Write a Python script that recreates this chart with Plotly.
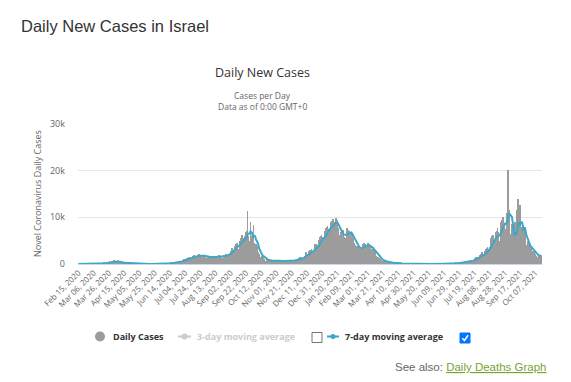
import pandas as pd
import plotly.graph_objects as go

# ---- data (daily new cases) ----
feb_2020 = [0,0,0,0,0,0,1,0,0,0,0,0,0,1,2]
mar_2020 = [3,2,3,2,3,4,2,7,10,17,14,15,25,50,36,50,90,120,190,220,170,200,260,330,430,520,550,380,360,600,650]
apr_2020 = [700,760,620,420,600,560,460,390,350,300,280,210,300,330,270,250,220,230,110,160,150,130,120,110,80,70,90,60,70,80]
may_2020 = [60,40,30,10,20,10,15,15,20,10,5,15,20,25,20,10,15,30,20,10,25,30,15,10,15,20,40,80,110,100,90]
jun_2020 = [50,70,110,130,120,100,80,110,150,180,170,210,160,110,140,230,290,300,310,190,230,300,340,380,480,500,600,450,560,700]
jul_2020 = [850,950,1100,1000,800,1200,1300,1100,1500,1400,1200,950,1600,1700,1800,1900,1600,1200,1500,1800,2000,2100,2000,1700,1300,1800,1900,2000,1850,1700,1500]
aug_2020 = [1000,1200,1500,1600,1700,1600,1500,1000,1300,1800,1700,1700,1600,1400,1100,1200,1500,1900,1800,1700,1500,1200,1300,1900,2000,2100,2200,2000,1600,2000,2200]
sep_2020 = [2200,2800,3200,3400,3000,2300,3800,3900,4200,4600,4400,3300,3000,5000,5500,5800,6200,5500,4300,3700,6000,6800,7000,11300,6000,5000,4000,8900,5500,6000]
oct_2020 = [5000,8300,4500,3500,4200,3800,3500,2500,2200,1500,1300,1500,1800,1700,1400,1100,700,600,900,1000,900,800,650,500,600,800,900,700,650,700,500]
nov_2020 = [400,600,750,800,700,650,500,450,700,750,800,700,600,450,500,800,700,750,700,600,500,800,900,850,900,800,600,700,1000,1100]
dec_2020 = [1300,1500,1400,1400,1100,1000,1600,1800,2300,2500,2200,1500,1900,2800,3000,3000,3200,2800,2200,3000,3800,4200,4300,4000,3300,3800,5200,5800,6000,6200,5800]
jan_2021 = [5200,4600,6000,7000,7800,8000,8200,7500,6300,7600,8500,9000,9300,9600,8200,6600,9000,9900,9500,9200,7800,6300,5000,5800,6800,7000,7200,6600,5800,4500,5600]
feb_2021 = [7500,7800,7200,7000,6500,4500,6800,6500,5500,5200,4600,4000,2800,3800,3800,3600,3500,3400,3300,2600,3500,4200,4300,4400,4200,3900,2700,4000]
mar_2021 = [4500,4300,4000,3800,3300,2200,3000,3300,2800,2500,2200,1800,1200,1600,1400,1200,1000,800,700,500,600,800,600,500,450,400,250,300,400,350,300]
apr_2021 = [300,250,150,100,200,250,200,180,150,100,80,150,160,140,120,100,60,90,100,110,80,70,60,50,40,70,80,70,60,50]
may_2021 = [30,40,50,50,40,40,30,20,30,40,30,30,20,15,10,20,30,25,20,15,10,20,20,15,20,10,10,15,10,10,5]
jun_2021 = [10,10,5,15,10,5,10,10,15,10,10,5,5,20,15,10,15,25,60,80,125,110,100,170,230,200,150,300,290,300]
jul_2021 = [300,250,200,250,350,450,400,500,450,300,450,700,750,800,650,500,450,900,1100,1300,1400,1200,1500,1000,1600,2000,2200,2300,2500,1800,1200]
aug_2021 = [2000,2800,3200,3400,3700,3300,2500,3600,4500,5500,6000,6200,5500,4000,5000,6800,7000,7800,6800,5000,4500,7800,9000,9500,10000,9800,8000,6500,7500,10500,11000]
sep_2021 = [20200,11500,8000,5000,6500,8500,3500,3000,8500,9000,7000,6000,11500,14000,7000,3000,12600,8000,6500,9000,5000,7500,6500,5000,4000,3500,5000,3000,3500,4000]
oct_2021 = [3500,2500,2000,2800,2500,2200,2000,1800,1500,1300,1800,2000,1900,1700,1500]

start_date = "2020-02-15"
tick_step_days = 20
y_ticks = [0, 10000, 20000, 30000]
y_tick_labels = ["0", "10k", "20k", "30k"]

daily = (feb_2020 + mar_2020 + apr_2020 + may_2020 + jun_2020 + jul_2020 + aug_2020 + sep_2020
         + oct_2020 + nov_2020 + dec_2020 + jan_2021 + feb_2021 + mar_2021 + apr_2021 + may_2021
         + jun_2021 + jul_2021 + aug_2021 + sep_2021 + oct_2021)
dates = pd.date_range(start_date, periods=len(daily), freq="D")
ma7 = pd.Series(daily).rolling(7, min_periods=1).mean()

tick_dates = dates[::tick_step_days]
tick_text = [d.strftime("%b %d, %Y") for d in tick_dates]

# ---- layout helpers (page pixel -> paper); page body has an 8px margin ----
PAGE_W, PAGE_H = 571, 382
OFF = 8
W, H = PAGE_W - OFF, PAGE_H - OFF
L, R, T, B = 78, 542, 124, 264   # plot area in page pixels
def px(x):
    return (x - L) / (R - L)
def py(y):
    return (B - y) / (B - T)

FONT = "Open Sans"
BAR_C = "#9c9c9c"
LINE_C = "#3ea6c8"

fig = go.Figure()
fig.add_trace(go.Bar(x=dates, y=daily, marker=dict(color=BAR_C, line=dict(width=0)),
                     hoverinfo="skip", showlegend=False))
fig.add_trace(go.Scatter(x=dates, y=ma7, mode="lines", line=dict(color=LINE_C, width=2),
                         hoverinfo="skip", showlegend=False))

ann = []
def text(x, y, s, size, color, xanchor="left", bold=False, family=FONT, angle=0):
    ann.append(dict(x=px(x), y=py(y), xref="paper", yref="paper", text=("<b>%s</b>" % s) if bold else s,
                    showarrow=False, xanchor=xanchor, yanchor="middle", textangle=angle,
                    font=dict(size=size, color=color, family=family)))

text(19, 26, "Daily New Cases in Israel", 16.5, "#333333", family="Liberation Sans")
text(262, 72, "Daily New Cases", 12.5, "#333333", xanchor="center")
text(262, 95, "Cases per Day", 8.5, "#666666", xanchor="center")
text(262, 106, "Data as of 0:00 GMT+0", 8.5, "#666666", xanchor="center")
text(37, 194, "Novel Coronavirus Daily Cases", 9, "#666666", xanchor="center", angle=-90)
text(111, 336.5, "Daily Cases", 9, "#333333", bold=True)
text(195, 336.5, "3-day moving average", 9, "#cccccc", bold=True)
text(343, 336.5, "7-day moving average", 9, "#333333", bold=True)
ann.append(dict(x=px(549), y=py(366.5), xref="paper", yref="paper", showarrow=False,
                xanchor="right", yanchor="middle",
                text='<span style="color:#666666">See also: </span><u>Daily Deaths Graph</u>',
                font=dict(size=11.5, color="#7ba133", family="Liberation Sans")))

shapes = []
shapes.append(dict(type="circle", xref="paper", yref="paper", x0=px(95), x1=px(105), y0=py(341.5), y1=py(331.5),
                   fillcolor=BAR_C, line=dict(width=0)))
shapes.append(dict(type="line", xref="paper", yref="paper", x0=px(178), x1=px(191), y0=py(336.5), y1=py(336.5),
                   line=dict(color="#cccccc", width=2)))
shapes.append(dict(type="circle", xref="paper", yref="paper", x0=px(181.5), x1=px(187.5), y0=py(339.5), y1=py(333.5),
                   fillcolor="#cccccc", line=dict(width=0)))
shapes.append(dict(type="rect", xref="paper", yref="paper", x0=px(312), x1=px(322), y0=py(342.5), y1=py(332.5),
                   fillcolor="white", line=dict(color="#767676", width=1)))
shapes.append(dict(type="line", xref="paper", yref="paper", x0=px(327), x1=px(339), y0=py(336.5), y1=py(336.5),
                   line=dict(color=LINE_C, width=2)))
shapes.append(dict(type="circle", xref="paper", yref="paper", x0=px(330.5), x1=px(335.5), y0=py(339), y1=py(334),
                   fillcolor=LINE_C, line=dict(width=0)))
shapes.append(dict(type="rect", xref="paper", yref="paper", x0=px(460), x1=px(470), y0=py(343), y1=py(333),
                   fillcolor="#0075ff", line=dict(color="#0075ff", width=1)))
chk = "M %f,%f L %f,%f L %f,%f" % (px(462.3), py(338.2), px(464.5), py(340.5), px(468), py(335.3))
shapes.append(dict(type="path", xref="paper", yref="paper", path=chk, line=dict(color="white", width=1.6)))

fig.update_layout(
    width=W, height=H,
    margin=dict(l=L - OFF, r=PAGE_W - R, t=T - OFF, b=PAGE_H - B, pad=0),
    paper_bgcolor="white", plot_bgcolor="white",
    font=dict(family=FONT, color="#666666"),
    bargap=0, showlegend=False, hovermode=False,
    annotations=ann, shapes=shapes,
    xaxis=dict(type="date", range=[dates[0] - pd.Timedelta(hours=12), dates[-1] + pd.Timedelta(hours=12)],
               tickvals=list(tick_dates), ticktext=tick_text, tickangle=-45,
               tickfont=dict(size=8, color="#666666", family=FONT),
               showgrid=False, showline=True, linecolor="#ccd6eb", linewidth=1, ticks="", zeroline=False),
    yaxis=dict(range=[0, 30000], tickvals=y_ticks, ticktext=y_tick_labels,
               tickfont=dict(size=9, color="#666666", family=FONT),
               showgrid=True, gridcolor="#e6e6e6", gridwidth=1, zeroline=False, showline=False,
               ticks="", ticklabelstandoff=12),
)

fig.write_html("out.html", config={"displayModeBar": False})
